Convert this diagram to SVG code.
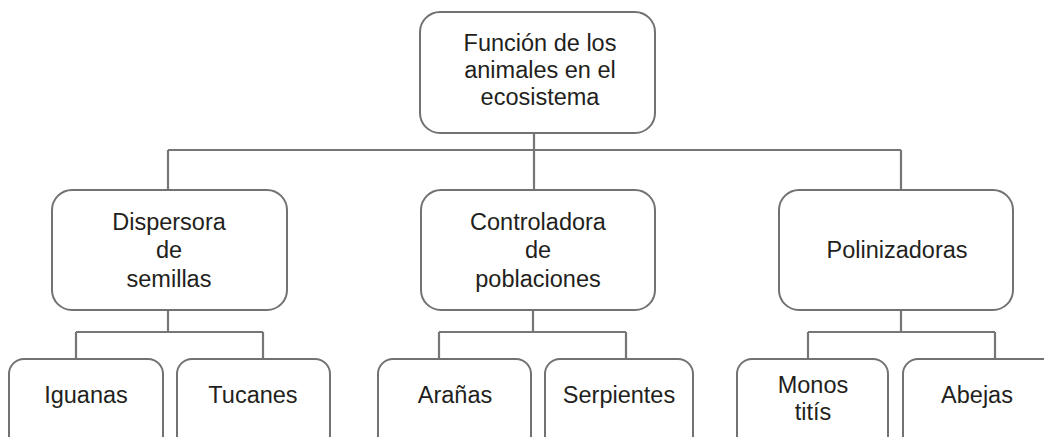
<svg xmlns="http://www.w3.org/2000/svg" width="1044" height="437" viewBox="0 0 1044 437">
<style>
.box{fill:#fff;stroke:#727272;stroke-width:2}
.ln{fill:none;stroke:#767676;stroke-width:2.2}
text{font-family:"Liberation Sans",Arial,Helvetica,sans-serif;font-size:23.5px;fill:#231f20;text-anchor:middle}
</style>
<rect width="1044" height="437" fill="#fff"/>
<g id="connectors">
<path class="ln" d="M534 133V150M168 150H901M168 150V190M534 150V190M901 150V190"/>
<path class="ln" d="M168 310V332M76 332H263M76 332V359M263 332V359"/>
<path class="ln" d="M533 310V332M439 332H626M439 332V359M626 332V359"/>
<path class="ln" d="M901 310V332M808 332H995M808 332V359M995 332V359"/>
</g>
<g id="root">
<rect class="box" x="420" y="12" width="235" height="121" rx="20"/>
<text x="540" y="51">Función de los</text>
<text x="540" y="78">animales en el</text>
<text x="540" y="105">ecosistema</text>
</g>
<g id="dispersora">
<rect class="box" x="52" y="190" width="235" height="120" rx="20"/>
<text x="169" y="230">Dispersora</text>
<text x="169" y="258">de</text>
<text x="169" y="287">semillas</text>
</g>
<g id="controladora">
<rect class="box" x="421" y="190" width="234" height="120" rx="20"/>
<text x="538" y="230">Controladora</text>
<text x="538" y="258">de</text>
<text x="538" y="287">poblaciones</text>
</g>
<g id="polinizadoras">
<rect class="box" x="779" y="190" width="234" height="120" rx="20"/>
<text x="897" y="258">Polinizadoras</text>
</g>
<g id="iguanas">
<rect class="box" x="9" y="359" width="154" height="100" rx="15"/>
<text x="86" y="403">Iguanas</text>
</g>
<g id="tucanes">
<rect class="box" x="177" y="359" width="153" height="100" rx="15"/>
<text x="253" y="403">Tucanes</text>
</g>
<g id="aranas">
<rect class="box" x="378" y="359" width="153" height="100" rx="15"/>
<text x="455" y="403">Arañas</text>
</g>
<g id="serpientes">
<rect class="box" x="545" y="359" width="148" height="100" rx="15"/>
<text x="619" y="403">Serpientes</text>
</g>
<g id="monos">
<rect class="box" x="737" y="359" width="151" height="100" rx="15"/>
<text x="813" y="393">Monos</text>
<text x="813" y="420">titís</text>
</g>
<g id="abejas">
<rect class="box" x="903" y="359" width="160" height="100" rx="15"/>
<text x="977" y="403">Abejas</text>
</g>
</svg>
